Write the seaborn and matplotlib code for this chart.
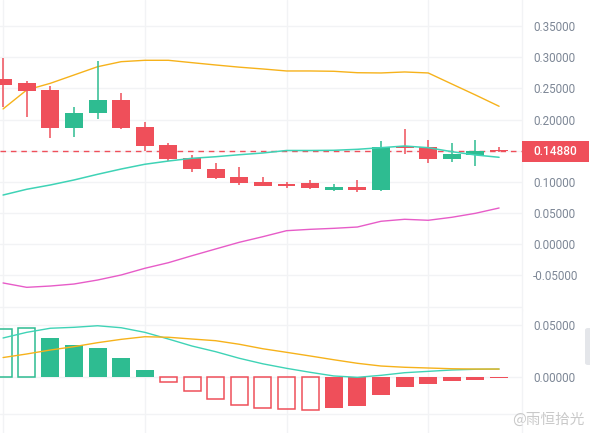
import numpy as np
import pandas as pd
import matplotlib
matplotlib.use('Agg')
import matplotlib.pyplot as plt
import matplotlib.transforms as mtransforms
from matplotlib.patches import Rectangle, FancyBboxPatch
import seaborn as sns

# candle data
opens = [0.2650, 0.2580, 0.2474, 0.1870, 0.2100, 0.2314, 0.1880, 0.1597, 0.1379, 0.1207, 0.1079,
         0.0999, 0.0967, 0.0975, 0.0870, 0.0919, 0.0870, 0.1581, 0.1560, 0.1368, 0.1437, 0.1510]
closes = [0.2559, 0.2463, 0.1870, 0.2110, 0.2314, 0.1870, 0.1580, 0.1368, 0.1207, 0.1063, 0.0988,
          0.0940, 0.0940, 0.0895, 0.0919, 0.0870, 0.1560, 0.1549, 0.1368, 0.1452, 0.1496, 0.1488]
highs = [0.2980, 0.2613, 0.2538, 0.2206, 0.2944, 0.2430, 0.1956, 0.1620, 0.1432, 0.1299, 0.1240,
         0.1079, 0.1003, 0.1031, 0.0967, 0.1031, 0.1656, 0.1849, 0.1672, 0.1620, 0.1672, 0.1560]
lows = [0.2206, 0.2046, 0.1700, 0.1725, 0.2004, 0.1853, 0.1500, 0.1336, 0.1164, 0.1050, 0.0946,
        0.0935, 0.0907, 0.0880, 0.0854, 0.0838, 0.0860, 0.1443, 0.1308, 0.1324, 0.1255, 0.1478]

# bollinger bands
upper = [0.2170, 0.2474, 0.2581, 0.2714, 0.2847, 0.2928, 0.2950, 0.2950, 0.2912, 0.2875, 0.2840,
         0.2811, 0.2779, 0.2779, 0.2774, 0.2751, 0.2747, 0.2763, 0.2747, 0.2570, 0.2394, 0.2213]
middle = [0.0790, 0.0882, 0.0951, 0.1031, 0.1122, 0.1207, 0.1283, 0.1335, 0.1379, 0.1404, 0.1436,
          0.1464, 0.1504, 0.1504, 0.1507, 0.1523, 0.1549, 0.1576, 0.1549, 0.1485, 0.1432, 0.1395]
lower = [-0.0620, -0.0690, -0.0669, -0.0637, -0.0573, -0.0492, -0.0385, -0.0295, -0.0183, -0.0075, 0.0032,
         0.0122, 0.0218, 0.0240, 0.0256, 0.0277, 0.0369, 0.0401, 0.0385, 0.0433, 0.0497, 0.0582]
last_price = 0.14880

# MACD
hist = [0.0460, 0.0468, 0.0373, 0.0309, 0.0277, 0.0182, 0.0067, -0.0051, -0.0137, -0.0213, -0.0271,
        -0.0300, -0.0308, -0.0312, -0.0293, -0.0274, -0.0169, -0.0093, -0.0067, -0.0035, -0.0026, -0.0012]
dif = [0.0373, 0.0427, 0.0466, 0.0475, 0.0490, 0.0471, 0.0427, 0.0363, 0.0296, 0.0242, 0.0179,
       0.0126, 0.0083, 0.0045, 0.0010, -0.0003, 0.0016, 0.0041, 0.0054, 0.0067, 0.0074, 0.0076]
dea = [0.0186, 0.0220, 0.0258, 0.0290, 0.0328, 0.0360, 0.0385, 0.0380, 0.0363, 0.0347, 0.0313,
       0.0270, 0.0236, 0.0201, 0.0165, 0.0131, 0.0105, 0.0093, 0.0086, 0.0079, 0.0076, 0.0076]

price_ticks = [-0.10, -0.05, 0.00, 0.05, 0.10, 0.15, 0.20, 0.25, 0.30, 0.35]
macd_ticks = [0.00, 0.05]

RED = '#ef4f5a'
GREEN = '#2ebc91'
ORANGE = '#f6b21b'
TEAL = '#3fd3b6'
PINK = '#e75cc8'
GRID = '#f2f3f5'
LABEL = '#7d8796'

sns.set_theme(style='white')
plt.rcParams['font.family'] = ['Roboto', 'DejaVu Sans']

df = pd.DataFrame({'i': np.arange(len(opens)), 'open': opens, 'close': closes,
                   'high': highs, 'low': lows, 'upper': upper, 'middle': middle,
                   'lower': lower, 'hist': hist, 'dif': dif, 'dea': dea})
df['up'] = df['close'] >= df['open']
df['col'] = np.where(df['up'], GREEN, RED)

fig = plt.figure(figsize=(5.9, 4.33), dpi=100)
ax = fig.add_axes([0, 123 / 433, 522 / 590, 310 / 433])
ax2 = fig.add_axes([0, 0, 522 / 590, 123 / 433])

xlim = (-0.13, 21.97)
width = 0.76

# price panel
for _, r in df.iterrows():
    ax.vlines(r['i'], r['low'], r['high'], color=r['col'], lw=1.1, zorder=3)
    bottom = min(r['open'], r['close'])
    h = max(abs(r['close'] - r['open']), 0.0015)
    ax.bar(r['i'], h, bottom=bottom, width=width, color=r['col'], edgecolor='none', zorder=4)

sns.lineplot(data=df, x='i', y='upper', color=ORANGE, lw=1.0, ax=ax, zorder=2)
sns.lineplot(data=df, x='i', y='middle', color=TEAL, lw=1.1, ax=ax, zorder=5)
sns.lineplot(data=df, x='i', y='lower', color=PINK, lw=1.0, ax=ax, zorder=2)
ax.axhline(last_price, color=RED, lw=1.0, ls=(0, (4, 3.5)), zorder=1)

ax.set_xlim(*xlim)
ax.set_ylim(0.35 - (310 - 26) / 623.7, 0.35 + 26 / 623.7)
ax.set_yticks(price_ticks)
ax.set_yticklabels(['' if t < -0.075 else f'{t:.5f}' for t in price_ticks])
ax.set_xticks([0, 6, 12, 18])
ax.set_xticklabels([])

# last price tag
trans = mtransforms.blended_transform_factory(ax.transAxes, ax.transData)
ax.add_patch(Rectangle((1.0, last_price - 0.0163), 67 / 522, 0.0326, transform=trans,
                       facecolor=RED, edgecolor='none', clip_on=False, zorder=10))
ax.text(1.0 + 33 / 522, last_price, f'{last_price:.5f}', transform=trans, ha='center',
        va='center', color='white', fontsize=8.6, fontweight='medium', zorder=11, clip_on=False)

# MACD panel
prev = np.concatenate([[0.0], np.abs(df['hist'].values[:-1])])
sign_prev = np.concatenate([[0.0], np.sign(df['hist'].values[:-1])])
hollow = (np.abs(df['hist'].values) > prev) | (np.sign(df['hist'].values) != sign_prev)
for (_, r), hol in zip(df.iterrows(), hollow):
    c = GREEN if r['hist'] >= 0 else RED
    if hol:
        ax2.bar(r['i'], r['hist'], width=width - 0.04, facecolor='none', edgecolor=c, lw=1.1, zorder=3)
    else:
        ax2.bar(r['i'], r['hist'], width=width, color=c, edgecolor='none', zorder=3)

sns.lineplot(data=df, x='i', y='dif', color=TEAL, lw=1.0, ax=ax2, zorder=4)
sns.lineplot(data=df, x='i', y='dea', color=ORANGE, lw=1.0, ax=ax2, zorder=4)
ax2.axhline(-0.0355, color=GRID, lw=1.0, zorder=0)

ax2.set_xlim(*xlim)
ax2.set_ylim((377 - 433) / 1046, (377 - 310) / 1046)
ax2.set_yticks(macd_ticks)
ax2.set_yticklabels([f'{t:.5f}' for t in macd_ticks])
ax2.set_xticks([0, 6, 12, 18])
ax2.set_xticklabels([])

for a in (ax, ax2):
    a.set_xlabel('')
    a.set_ylabel('')
    a.grid(True, color=GRID, lw=1.0)
    a.set_axisbelow(True)
    a.yaxis.tick_right()
    a.tick_params(axis='y', length=0, pad=8, labelsize=8.4, labelcolor=LABEL)
    a.tick_params(axis='x', length=0)
    for s in ('top', 'left', 'bottom'):
        a.spines[s].set_visible(False)
    a.spines['right'].set_color(GRID)
    a.spines['right'].set_linewidth(1.0)

# scrollbar handle on the right edge
fig.patches.append(FancyBboxPatch((585 / 590, 1 - 365 / 433), 8 / 590, 37 / 433,
                                  boxstyle='round,pad=0,rounding_size=0.005',
                                  transform=fig.transFigure, facecolor='#e4e6ea',
                                  edgecolor='none'))

# watermark
fig.text(548 / 590, 1 - 420 / 433, '@雨恒拾光', ha='center', va='center', fontsize=10.5,
         color='#c9c9c9', family=['Noto Sans CJK SC', 'DejaVu Sans'], zorder=20)

fig.savefig('out.png', dpi=100)
